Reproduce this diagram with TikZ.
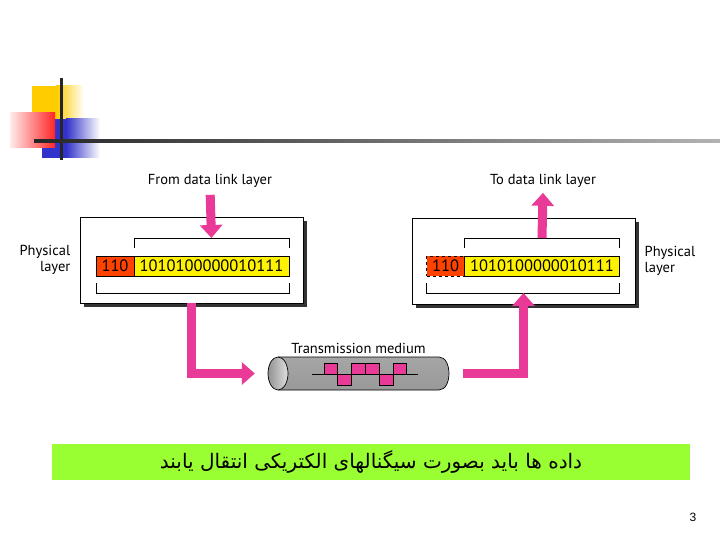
\documentclass[tikz,border=0pt]{standalone}
\usepackage{fontspec}
\setmainfont{PT Sans}
\newfontfamily\arabicfont[Script=Arabic]{DejaVu Sans}
\newfontfamily\numfont{Liberation Sans}
\TeXXeTstate=1
\usetikzlibrary{positioning,arrows.meta}

\definecolor{arrowpink}{RGB}{232,58,150}
\definecolor{hdrred}{RGB}{255,66,0}
\definecolor{notegreen}{RGB}{153,255,51}
\definecolor{decoyellow}{RGB}{255,204,0}
\definecolor{decoblue}{RGB}{51,51,204}

\tikzset{
  layerbox/.style={draw, fill=white, line width=0.9pt,
    minimum width=223pt, minimum height=86pt},
  boxshadow/.style={fill=black!80},
  hdr/.style={draw, fill=hdrred, inner sep=0pt, outer sep=0pt,
    minimum width=38pt, minimum height=20pt, font=\fontsize{16.5}{16.5}\selectfont},
  bits/.style={draw, fill=yellow, inner sep=0pt, outer sep=0pt,
    minimum width=155pt, minimum height=20pt, font=\fontsize{16.5}{16.5}\selectfont},
  lbl/.style={font=\fontsize{14.5}{16}\selectfont, inner sep=1pt},
  pinkarrow/.style={draw=arrowpink, line width=9pt, line join=miter,
    -{Triangle[width=22pt,length=13pt]}}
}

\begin{document}
\begin{tikzpicture}[x=1pt, y=-1pt]
\useasboundingbox (0,0) rectangle (720,540);

% corner ornament
\fill[decoyellow] (32,86) rectangle (56,119);
\shade[left color=decoyellow, right color=white] (56,86) rectangle (84,119);
\fill[decoblue] (42,119) rectangle (66,158);
\shade[left color=decoblue, right color=white] (66,119) rectangle (100,158);
\shade[left color=red!8, right color=red!85] (10,113) rectangle (55,148);
\fill[black!85] (60,78) rectangle (63,160);
\shade[left color=black!85, right color=gray!60] (34,139.5) rectangle (720,142.5);

% sender side
\fill[boxshadow] (84,221) rectangle (307,307);
\node[layerbox] (lbox) at (191.5,260) {};
\node[hdr] (lhdr) at (115,266) {110};
\node[bits, right=0pt of lhdr] (ldata) {1010100000010111};
\node[lbl, align=right, left=8pt of lbox] (lphys) {Physical\\layer};
\node[lbl] (fromlbl) at (210,181) {From data link layer};

% receiver side
\fill[boxshadow] (416,222) rectangle (639,308);
\node[layerbox] (rbox) at (523.5,261) {};
\node[hdr, dashed] (rhdr) at (445.5,266) {110};
\node[bits, right=0pt of rhdr] (rdata) {1010100000010111};
\node[lbl, align=left, right=8pt of rbox] (rphys) {Physical\\layer};
\node[lbl] (tolbl) at (543,181) {To data link layer};

% brackets round the frames
\foreach \s in {l,r} {
  \draw[line width=0.8pt] ([yshift=8pt]\s data.north west) |- ([yshift=18pt]\s data.north east)
    -- ([yshift=8pt]\s data.north east);
  \draw[line width=0.8pt] ([yshift=-7pt]\s hdr.south west) |- ([yshift=-17pt]\s data.south east)
    -- ([yshift=-7pt]\s data.south east);
}
\coordinate (rbot) at ([yshift=-17pt]rdata.south);

% transmission medium
\node[minimum width=181pt, minimum height=33pt, inner sep=0pt] (medium) at (358.5,373.5) {};
\shade[top color=gray!70, middle color=gray!8, bottom color=gray!80]
  (278,357) -- (439,357) .. controls (452.3,357) and (452.3,390) .. (439,390) -- (278,390) -- cycle;
\draw[line width=0.7pt]
  (278,357) -- (439,357) .. controls (452.3,357) and (452.3,390) .. (439,390) -- (278,390);
\shade[left color=gray!85, right color=gray!25, draw=black, line width=0.7pt]
  (278,373.5) ellipse (10 and 16.5);
\node[lbl, above=2pt of medium] (medlbl) {Transmission medium};
\draw[line width=0.7pt] (312,374) -- (418,374);
\foreach \b [count=\i from 0] in {1,-1,1,1,-1,1}
  \filldraw[fill=arrowpink, line width=0.7pt] ({324+\i*13.8},374) rectangle ++(13.8,{-11*\b});

% signal path
\draw[pinkarrow, shorten <=6pt] (fromlbl.south) -- ([yshift=18pt]ldata.north);
\draw[pinkarrow] ([yshift=18pt]rdata.north) -- ([yshift=-4pt]tolbl.south);
\draw[pinkarrow, shorten >=13pt] (lbox.south) |- (medium.west);
\draw[pinkarrow, shorten <=14pt] (medium.east) -| (rbox.south |- rbot);

% note bar
\node[fill=notegreen, minimum width=638pt, minimum height=36pt, inner sep=0pt] (note) at (371,462)
  {\arabicfont\fontsize{20}{22}\selectfont\beginR داده ها باید بصورت سیگنالهای الکتریکی انتقال یابند\endR};
\node[font=\numfont\fontsize{12}{12}\selectfont] (pagenum) at (693,517) {3};
\end{tikzpicture}
\end{document}
